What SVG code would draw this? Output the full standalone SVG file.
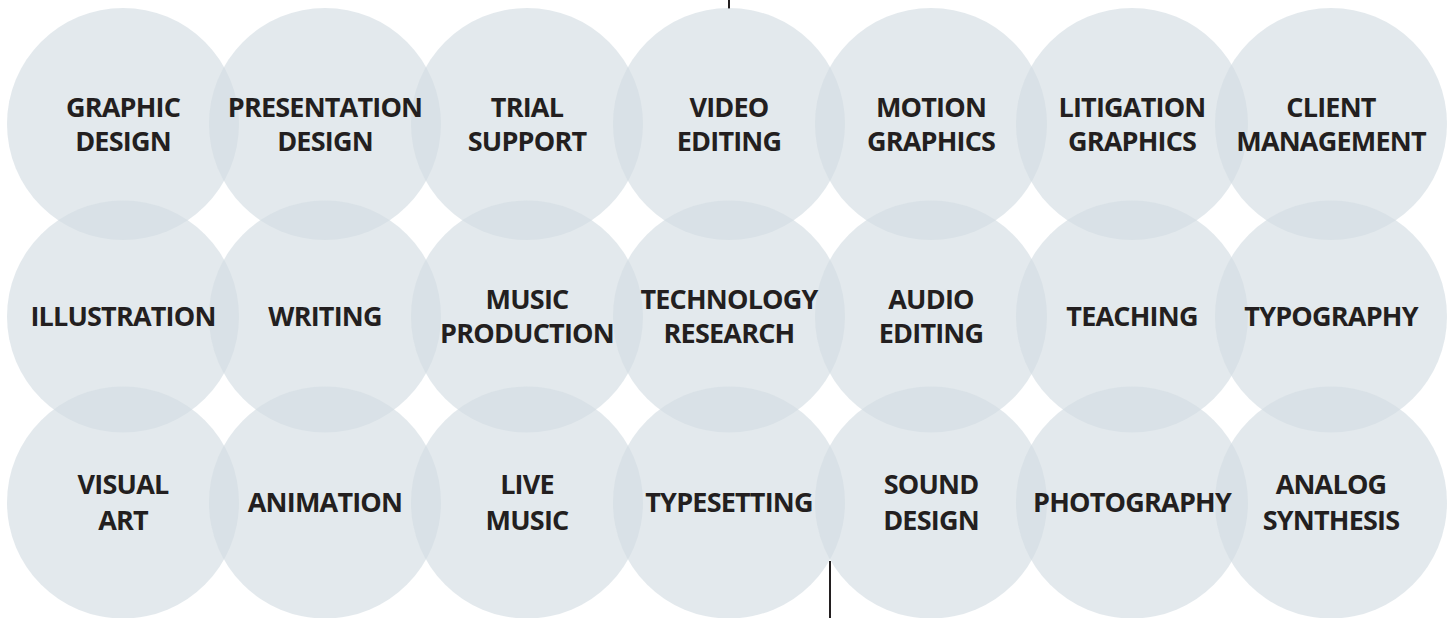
<svg xmlns="http://www.w3.org/2000/svg" width="1452" height="618" viewBox="0 0 1452 618">
<style>
.c{fill:rgb(211,221,227);fill-opacity:0.64}
.t{font-family:"Open Sans","Noto Sans","Liberation Sans",sans-serif;font-weight:700;font-size:27px;letter-spacing:-0.8px;fill:#231f20;text-anchor:middle}
.l{stroke:#231f20;stroke-width:2;fill:none}
</style>
<rect width="1452" height="618" fill="#ffffff"/>
<g id="connectors">
<line class="l" x1="729" y1="0" x2="729" y2="9"/>
<line class="l" x1="830" y1="561" x2="830" y2="618"/>
</g>
<g id="circles">
<g id="node-graphic-design"><circle class="c" cx="123" cy="124" r="116"/></g>
<g id="node-presentation-design"><circle class="c" cx="325" cy="124" r="116"/></g>
<g id="node-trial-support"><circle class="c" cx="527" cy="124" r="116"/></g>
<g id="node-video-editing"><circle class="c" cx="729" cy="124" r="116"/></g>
<g id="node-motion-graphics"><circle class="c" cx="931" cy="124" r="116"/></g>
<g id="node-litigation-graphics"><circle class="c" cx="1132" cy="124" r="116"/></g>
<g id="node-client-management"><circle class="c" cx="1331" cy="124" r="116"/></g>
<g id="node-illustration"><circle class="c" cx="123" cy="316.5" r="116"/></g>
<g id="node-writing"><circle class="c" cx="325" cy="316.5" r="116"/></g>
<g id="node-music-production"><circle class="c" cx="527" cy="316.5" r="116"/></g>
<g id="node-technology-research"><circle class="c" cx="729" cy="316.5" r="116"/></g>
<g id="node-audio-editing"><circle class="c" cx="931" cy="316.5" r="116"/></g>
<g id="node-teaching"><circle class="c" cx="1132" cy="316.5" r="116"/></g>
<g id="node-typography"><circle class="c" cx="1331" cy="316.5" r="116"/></g>
<g id="node-visual-art"><circle class="c" cx="123" cy="502.5" r="116"/></g>
<g id="node-animation"><circle class="c" cx="325" cy="502.5" r="116"/></g>
<g id="node-live-music"><circle class="c" cx="527" cy="502.5" r="116"/></g>
<g id="node-typesetting"><circle class="c" cx="729" cy="502.5" r="116"/></g>
<g id="node-sound-design"><circle class="c" cx="931" cy="502.5" r="116"/></g>
<g id="node-photography"><circle class="c" cx="1132" cy="502.5" r="116"/></g>
<g id="node-analog-synthesis"><circle class="c" cx="1331" cy="502.5" r="116"/></g>
</g>
<g id="labels">
<text class="t" x="123" y="117">GRAPHIC<tspan x="123" y="151">DESIGN</tspan></text>
<text class="t" x="325" y="117">PRESENTATION<tspan x="325" y="151">DESIGN</tspan></text>
<text class="t" x="527" y="117">TRIAL<tspan x="527" y="151">SUPPORT</tspan></text>
<text class="t" x="729" y="117">VIDEO<tspan x="729" y="151">EDITING</tspan></text>
<text class="t" x="931" y="117">MOTION<tspan x="931" y="151">GRAPHICS</tspan></text>
<text class="t" x="1132" y="117">LITIGATION<tspan x="1132" y="151">GRAPHICS</tspan></text>
<text class="t" x="1331" y="117">CLIENT<tspan x="1331" y="151">MANAGEMENT</tspan></text>
<text class="t" x="123" y="326">ILLUSTRATION</text>
<text class="t" x="325" y="326">WRITING</text>
<text class="t" x="527" y="309">MUSIC<tspan x="527" y="343">PRODUCTION</tspan></text>
<text class="t" x="729" y="309">TECHNOLOGY<tspan x="729" y="343">RESEARCH</tspan></text>
<text class="t" x="931" y="309">AUDIO<tspan x="931" y="343">EDITING</tspan></text>
<text class="t" x="1132" y="326">TEACHING</text>
<text class="t" x="1331" y="326">TYPOGRAPHY</text>
<text class="t" x="123" y="494">VISUAL<tspan x="123" y="530">ART</tspan></text>
<text class="t" x="325" y="512">ANIMATION</text>
<text class="t" x="527" y="494">LIVE<tspan x="527" y="530">MUSIC</tspan></text>
<text class="t" x="729" y="512">TYPESETTING</text>
<text class="t" x="931" y="494">SOUND<tspan x="931" y="530">DESIGN</tspan></text>
<text class="t" x="1132" y="512">PHOTOGRAPHY</text>
<text class="t" x="1331" y="494">ANALOG<tspan x="1331" y="530">SYNTHESIS</tspan></text>
</g>
</svg>
